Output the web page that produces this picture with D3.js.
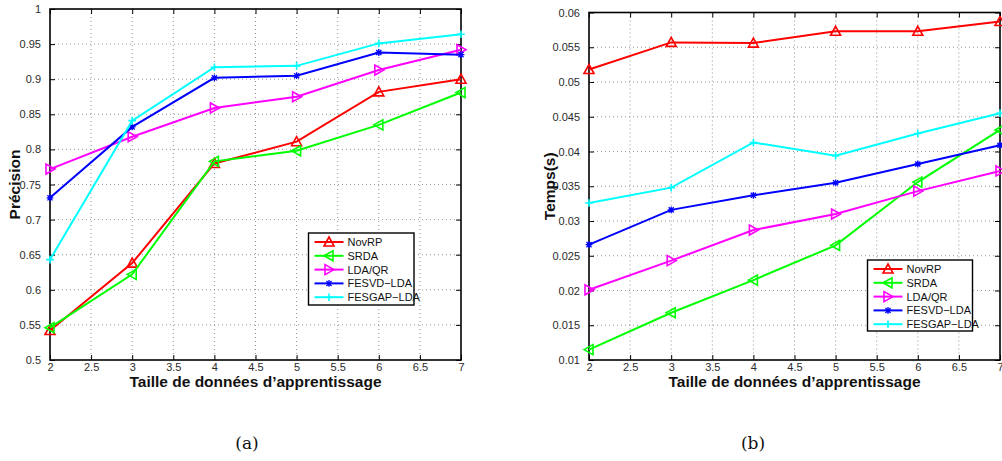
<!DOCTYPE html>
<html>
<head>
<meta charset="utf-8">
<script src="https://cdn.jsdelivr.net/npm/d3@7"></script>
<style>
  html, body { margin: 0; padding: 0; background: #fff; }
  svg { display: block; }
  .tick text { font-family: "Liberation Sans", Arial, sans-serif; font-size: 11px; fill: #2a2a2a; }
  .axis-title { font-family: "Liberation Sans", Arial, sans-serif; font-size: 15.5px; font-weight: bold; fill: #111; }
  .legend text { font-family: "Liberation Sans", Arial, sans-serif; font-size: 11px; fill: #111; }
  .caption { font-family: "DejaVu Serif", "Liberation Serif", serif; font-size: 17px; fill: #111; }
</style>
</head>
<body>
<svg id="fig" width="1002" height="461"></svg>
<script>
// Training-set sizes shared by both panels
const trainSizes = [2, 3, 4, 5, 6, 7];

// Methods, their colours and markers
const methods = ["NovRP", "SRDA", "LDA/QR", "FESVD\u2212LDA", "FESGAP\u2212LDA"];
const colors  = ["#ff0000", "#00ff00", "#ff00ff", "#0000ff", "#00ffff"];
const markers = ["triUp", "triLeft", "triRight", "star", "plus"];

// (a) Precision
const precNovRP  = [0.542, 0.638, 0.780, 0.811, 0.882, 0.900];
const precSRDA   = [0.546, 0.622, 0.783, 0.798, 0.835, 0.881];
const precLDAQR  = [0.772, 0.818, 0.859, 0.875, 0.913, 0.942];
const precFESVD  = [0.731, 0.832, 0.902, 0.905, 0.938, 0.935];
const precFESGAP = [0.643, 0.841, 0.917, 0.919, 0.951, 0.964];

// (b) Time in seconds
const timeNovRP  = [0.0518, 0.0557, 0.0556, 0.0573, 0.0573, 0.0587];
const timeSRDA   = [0.0115, 0.0168, 0.0215, 0.0265, 0.0356, 0.0431];
const timeLDAQR  = [0.0201, 0.0243, 0.0287, 0.0310, 0.0343, 0.0372];
const timeFESVD  = [0.0266, 0.0316, 0.0337, 0.0355, 0.0382, 0.0409];
const timeFESGAP = [0.0326, 0.0348, 0.0413, 0.0394, 0.0426, 0.0455];

// Tick values
const xTicks = [2, 2.5, 3, 3.5, 4, 4.5, 5, 5.5, 6, 6.5, 7];
const precTicks = [0.5, 0.55, 0.6, 0.65, 0.7, 0.75, 0.8, 0.85, 0.9, 0.95, 1];
const timeTicks = [0.01, 0.015, 0.02, 0.025, 0.03, 0.035, 0.04, 0.045, 0.05, 0.055, 0.06];

const xLabel = "Taille de donn\u00e9es d\u2019apprentissage";

const svg = d3.select("#fig");

function drawMarker(g, type, x, y, color) {
  const s = 5;
  if (type === "triUp") {
    g.append("path").attr("d", `M${x},${y - s}L${x + s},${y + s * 0.8}L${x - s},${y + s * 0.8}Z`)
      .attr("fill", "none").attr("stroke", color).attr("stroke-width", 1.6);
  } else if (type === "triLeft") {
    g.append("path").attr("d", `M${x - s},${y}L${x + s * 0.8},${y - s}L${x + s * 0.8},${y + s}Z`)
      .attr("fill", "none").attr("stroke", color).attr("stroke-width", 1.6);
  } else if (type === "triRight") {
    g.append("path").attr("d", `M${x + s},${y}L${x - s * 0.8},${y - s}L${x - s * 0.8},${y + s}Z`)
      .attr("fill", "none").attr("stroke", color).attr("stroke-width", 1.6);
  } else if (type === "star") {
    const r = 3.4, d = r * 0.75;
    g.append("path").attr("d",
      `M${x - r},${y}L${x + r},${y}M${x},${y - r}L${x},${y + r}` +
      `M${x - d},${y - d}L${x + d},${y + d}M${x - d},${y + d}L${x + d},${y - d}`)
      .attr("stroke", color).attr("stroke-width", 1.3);
  } else if (type === "plus") {
    const r = 3.8;
    g.append("path").attr("d", `M${x - r},${y}L${x + r},${y}M${x},${y - r}L${x},${y + r}`)
      .attr("stroke", color).attr("stroke-width", 1.6);
  }
}

function panel(opts) {
  const { left, right, top, bottom, yDomain, yTicks, yFmt, series, yTitle, yTitleX, legend } = opts;
  const g = svg.append("g");
  const x = d3.scaleLinear().domain([2, 7]).range([left, right]);
  const y = d3.scaleLinear().domain(yDomain).range([bottom, top]);

  // dotted grid
  const grid = g.append("g");
  xTicks.slice(1, -1).forEach(t => grid.append("line")
    .attr("x1", x(t)).attr("x2", x(t)).attr("y1", top).attr("y2", bottom)
    .attr("stroke", "#8a8a8a").attr("stroke-width", 0.9).attr("stroke-dasharray", "1,3"));
  yTicks.slice(1, -1).forEach(t => grid.append("line")
    .attr("x1", left).attr("x2", right).attr("y1", y(t)).attr("y2", y(t))
    .attr("stroke", "#8a8a8a").attr("stroke-width", 0.9).attr("stroke-dasharray", "1,3"));

  // axes with inward ticks on all four sides
  const xb = g.append("g").attr("transform", `translate(0,${bottom})`)
    .call(d3.axisBottom(x).tickValues(xTicks).tickSize(-5).tickPadding(3).tickFormat(d3.format("")));
  const xt = g.append("g").attr("transform", `translate(0,${top})`)
    .call(d3.axisTop(x).tickValues(xTicks).tickSize(-5).tickFormat(""));
  const yl = g.append("g").attr("transform", `translate(${left},0)`)
    .call(d3.axisLeft(y).tickValues(yTicks).tickSize(-5).tickPadding(9).tickFormat(yFmt));
  const yr = g.append("g").attr("transform", `translate(${right},0)`)
    .call(d3.axisRight(y).tickValues(yTicks).tickSize(-5).tickFormat(""));
  [xb, xt, yl, yr].forEach(a => {
    a.select(".domain").remove();
    a.selectAll(".tick line").attr("stroke", "#000").attr("stroke-width", 1);
  });
  // bottom labels sit just under the frame
  xb.selectAll(".tick text").attr("y", 3).attr("dy", "0.71em");

  // frame
  g.append("rect").attr("x", left).attr("y", top).attr("width", right - left).attr("height", bottom - top)
    .attr("fill", "none").attr("stroke", "#000").attr("stroke-width", 1.6);

  // series lines and markers
  const line = d3.line().x((d, i) => x(trainSizes[i])).y(d => y(d));
  series.forEach((vals, k) => {
    g.append("path").datum(vals).attr("d", line)
      .attr("fill", "none").attr("stroke", colors[k]).attr("stroke-width", 2);
    const mg = g.append("g");
    vals.forEach((v, i) => drawMarker(mg, markers[k], x(trainSizes[i]), y(v), colors[k]));
  });

  // axis titles
  g.append("text").attr("class", "axis-title").attr("x", (left + right) / 2).attr("y", bottom + 27)
    .attr("text-anchor", "middle").text(xLabel);
  g.append("text").attr("class", "axis-title")
    .attr("transform", `translate(${yTitleX},${(top + bottom) / 2}) rotate(-90)`)
    .attr("text-anchor", "middle").text(yTitle);

  // legend
  const lg = g.append("g").attr("class", "legend");
  lg.append("rect").attr("x", legend.x).attr("y", legend.y).attr("width", legend.w).attr("height", legend.h)
    .attr("fill", "#fff").attr("stroke", "#000").attr("stroke-width", 1.4);
  methods.forEach((m, k) => {
    const ly = legend.y + 9 + k * 13.8;
    const x1 = legend.x + 6, x2 = legend.x + 35;
    lg.append("line").attr("x1", x1).attr("x2", x2).attr("y1", ly).attr("y2", ly)
      .attr("stroke", colors[k]).attr("stroke-width", 2);
    drawMarker(lg, markers[k], (x1 + x2) / 2, ly, colors[k]);
    lg.append("text").attr("x", legend.x + 39).attr("y", ly).attr("dy", "0.36em").text(m);
  });
}

panel({
  left: 50, right: 461, top: 9, bottom: 360,
  yDomain: [0.5, 1], yTicks: precTicks, yFmt: d3.format(""),
  series: [precNovRP, precSRDA, precLDAQR, precFESVD, precFESGAP],
  yTitle: "Pr\u00e9cision", yTitleX: 20,
  legend: { x: 308.5, y: 233, w: 105.5, h: 72 }
});

panel({
  left: 589, right: 1000, top: 12.5, bottom: 360,
  yDomain: [0.01, 0.06], yTicks: timeTicks, yFmt: d3.format(""),
  series: [timeNovRP, timeSRDA, timeLDAQR, timeFESVD, timeFESGAP],
  yTitle: "Temps(s)", yTitleX: 555,
  legend: { x: 867.5, y: 260, w: 105, h: 71 }
});

// panel captions
svg.append("text").attr("class", "caption").attr("x", 247).attr("y", 449).attr("text-anchor", "middle").text("(a)");
svg.append("text").attr("class", "caption").attr("x", 753).attr("y", 449).attr("text-anchor", "middle").text("(b)");
</script>
</body>
</html>
